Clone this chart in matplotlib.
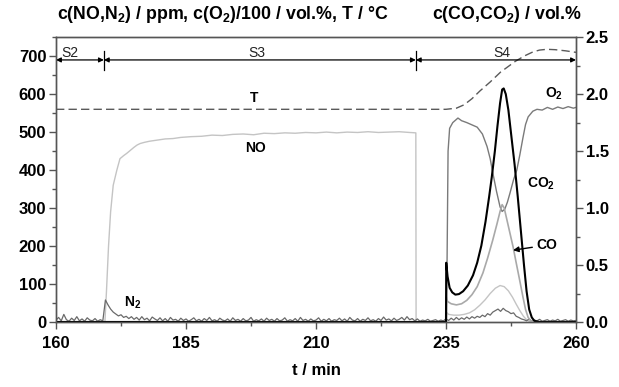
import numpy as np
import matplotlib.pyplot as plt

plt.rcParams['font.family'] = ['Liberation Sans', 'DejaVu Sans']
plt.rcParams['mathtext.fontset'] = 'custom'
plt.rcParams['mathtext.rm'] = 'Liberation Sans'
plt.rcParams['mathtext.bf'] = 'Liberation Sans:bold'

# ---- data ----
# temperature, degC
t_T = [160, 235, 237, 238.5, 240, 241.5, 243.5, 245.5, 248.3, 250, 251.7, 253, 254.4, 256, 258, 260]
T = [560, 560, 563, 572, 588, 608, 632, 658, 686, 700, 711, 716, 718, 717, 714, 710]

# NO, ppm
t_NO = [160, 169.4, 169.7, 170.1, 170.5, 171.0, 171.7, 172.3, 173.0, 173.6, 174.3, 175.0, 175.6,
        176.2, 177, 178, 179, 180, 181, 182.5, 184, 186, 188, 190, 192, 194, 196, 198, 200, 202,
        204, 206, 208, 210, 212, 214, 216, 218, 220, 222, 224, 226, 228, 229.2, 229.25,
        235.05, 235.15, 235.5, 236.5, 237.5, 238.5, 239.5, 240.5, 241.5, 242.5, 243.5, 244.5,
        245.4, 246.2, 247, 247.8, 248.5, 249.2, 249.9, 250.5, 251, 252, 260]
NO = [0, 0, 80, 200, 290, 360, 400, 430, 438, 444, 452, 460, 466,
      470, 473, 476, 478, 480, 482, 483, 486, 488, 489, 492, 491, 494, 495, 493, 497, 496,
      498, 497, 499, 498, 500, 498, 500, 499, 501, 499, 500, 501, 499, 498, 0,
      0, 25, 20, 18, 18, 20, 24, 32, 44, 58, 75, 89,
      96, 93, 82, 65, 47, 30, 15, 6, 2, 0, 0]

# N2, ppm (every 0.5 min from 160 to 260)
t_N2 = np.arange(160, 260.5, 0.5)
N2 = [5, 12, 3, 20, 6, 2, 10, 4, 14, 3,
      8, 2, 11, 5, 3, 9, 2, 6, 3, 58,
      45, 34, 26, 21, 16, 19, 12, 15, 9, 14,
      7, 12, 5, 14, 6, 10, 3, 13, 8, 4,
      11, 3, 9, 2, 12, 5, 7, 2, 10, 4,
      8, 2, 6, 11, 3, 7, 2, 9, 4, 12,
      3, 6, 2, 10, 5, 3, 8, 2, 11, 4,
      7, 2, 9, 3, 5, 12, 2, 6, 3, 8,
      2, 10, 4, 7, 2, 9, 3, 5, 11, 2,
      6, 3, 9, 2, 12, 4, 7, 2, 8, 3,
      5, 11, 2, 7, 3, 9, 2, 6, 4, 10,
      3, 8, 2, 12, 5, 3, 9, 2, 7, 4,
      11, 3, 6, 2, 9, 4, 13, 5, 8, 3,
      10, 4, 7, 12, 5, 14, 6, 9, 3, 8,
      2, 5, 3, 7, 2, 4, 6, 2, 5, 3,
      8, 4, 10, 5, 12, 6, 11, 7, 13, 8,
      14, 10, 15, 12, 18, 14, 22, 18, 26, 30,
      34, 28, 36, 30, 27, 22, 24, 15, 12, 8,
      6, 3, 8, 2, 5, 3, 7, 2, 4, 6,
      2, 5, 3, 7, 2, 4, 6, 2, 5, 3,
      4]

# O2, vol.%
t_O2 = [234.9, 235.1, 235.4, 235.7, 236.3, 237.3, 238, 239, 240, 241, 242, 242.9, 243.5, 244,
        244.7, 245.4, 245.8, 246.3, 246.8, 247.3, 248, 248.6, 249.2, 249.8, 250.3, 250.8, 251.7,
        252.5, 253.5, 254.5, 255.5, 256.5, 257.5, 258.5, 259.5, 260]
O2 = [0, 0, 4.5, 5.1, 5.25, 5.37, 5.3, 5.25, 5.19, 5.13, 4.95, 4.62, 4.3, 3.93,
      3.45, 3.03, 2.91, 2.97, 3.15, 3.39, 3.75, 3.99, 4.4, 4.85, 5.2, 5.4, 5.55,
      5.6, 5.58, 5.65, 5.6, 5.66, 5.62, 5.67, 5.63, 5.65]

# CO2, vol.%
t_CO2 = [160, 235, 235.05, 235.3, 235.7, 236.2, 236.8, 237.5, 238.3, 239.2, 240.2, 241, 241.8,
         242.6, 243.3, 243.8, 244.4, 244.9, 245.4, 245.8, 246.1, 246.5, 247, 247.6, 248.2,
         248.8, 249.4, 250, 250.5, 251, 251.5, 252, 253, 260]
CO2 = [0, 0, 0.52, 0.4, 0.3, 0.26, 0.24, 0.245, 0.27, 0.32, 0.41, 0.52, 0.67,
       0.88, 1.1, 1.27, 1.5, 1.72, 1.92, 2.04, 2.05, 2.0, 1.86, 1.62, 1.38,
       1.1, 0.8, 0.5, 0.27, 0.11, 0.04, 0.01, 0, 0]

# CO, vol.%
t_CO = [160, 235, 235.05, 235.3, 236, 237, 238, 239, 240, 241, 242.1, 243, 244, 244.8, 245.4,
        245.8, 246.2, 246.8, 247.4, 247.9, 248.5, 249.2, 249.8, 250.3, 250.8, 251.3, 252, 260]
CO = [0, 0, 0.22, 0.18, 0.16, 0.15, 0.16, 0.19, 0.24, 0.31, 0.43, 0.56, 0.72, 0.86, 0.97,
      1.03, 1.0, 0.88, 0.76, 0.66, 0.52, 0.36, 0.22, 0.11, 0.04, 0.01, 0, 0]

# phases
phase_edges = [160, 169.2, 229.2, 260]
phase_names = ['S2', 'S3', 'S4']
phase_label_x = [162.7, 198.7, 245.8]

# ---- plot ----
fig = plt.figure(figsize=(6.19, 3.87), dpi=100)
ax = fig.add_axes([0.0905, 0.168, 0.84, 0.736])
ax2 = ax.twinx()

ax.plot(t_NO, NO, color='#c4c4c4', lw=1.0)
ax2.plot(t_CO, CO, color='#a9a9a9', lw=1.2)
ax.plot(t_O2, np.array(O2) * 100, color='#7a7a7a', lw=1.0)
ax.plot(t_N2, N2, color='#6a6a6a', lw=0.9)
ax.plot(t_T, T, color='#5a5a5a', lw=1.0, dashes=(6, 3))
ax2.plot(t_CO2, CO2, color='black', lw=1.5)

# phase arrows
y_ph = 690
for i in range(3):
    ax.annotate('', xy=(phase_edges[i + 1], y_ph), xytext=(phase_edges[i], y_ph),
                arrowprops=dict(arrowstyle='<|-|>', color='black', lw=0.9,
                                mutation_scale=7, shrinkA=0, shrinkB=0))
    ax.text(phase_label_x[i], 707, phase_names[i], fontsize=10, color='#222222',
            ha='center', va='center')
for x in phase_edges[1:3]:
    ax.plot([x, x], [663, 714], color='black', lw=0.9)

# series labels
ax.text(198, 589, 'T', fontsize=10, fontweight='bold', ha='center', va='center')
ax.text(198.3, 458, 'NO', fontsize=10, fontweight='bold', ha='center', va='center')
ax.text(174.8, 50, r'N$_\mathbf{2}$', fontsize=10, fontweight='bold', ha='center', va='center')
ax2.text(255.8, 2.0, r'O$_\mathbf{2}$', fontsize=10, fontweight='bold', ha='center', va='center')
ax2.text(253.2, 1.21, r'CO$_\mathbf{2}$', fontsize=10, fontweight='bold', ha='center', va='center')
ax2.annotate('CO', xy=(247.9, 0.63), xytext=(252.4, 0.675), fontsize=10, fontweight='bold',
             va='center', ha='left',
             arrowprops=dict(arrowstyle='-|>', color='black', lw=1.0, mutation_scale=8,
                             shrinkA=1, shrinkB=0))

ax.set_xlim(160, 260)
ax.set_ylim(0, 750)
ax2.set_ylim(0, 2.5)
ax.set_xticks([160, 185, 210, 235, 260])
ax.set_xticks([172.5, 197.5, 222.5, 247.5], minor=True)
ax.set_yticks(range(0, 701, 100))
ax.set_yticks(range(50, 751, 100), minor=True)
ax2.set_yticks([0, 0.5, 1.0, 1.5, 2.0, 2.5])
ax2.set_yticks([0.25, 0.75, 1.25, 1.75, 2.25], minor=True)
ax2.set_yticklabels(['0.0', '0.5', '1.0', '1.5', '2.0', '2.5'])

for a in (ax, ax2):
    for s in a.spines.values():
        s.set_color('#555555')
        s.set_linewidth(1.0)
    a.tick_params(which='both', direction='out', color='#555555', width=1.0)
    a.tick_params(which='major', length=5, labelsize=12, pad=2)
    a.tick_params(which='minor', length=3)
ax.tick_params(axis='x', which='major', pad=5)
for lab in ax.get_xticklabels() + ax.get_yticklabels() + ax2.get_yticklabels():
    lab.set_fontweight('bold')

ax.set_xlabel('t / min', fontsize=12, fontweight='bold', labelpad=9)

fig.text(0.092, 0.962, r'c(NO,N$_\mathbf{2}$) / ppm, c(O$_\mathbf{2}$)/100 / vol.%, T / °C',
         fontsize=12.8, fontweight='bold', va='center', ha='left')
fig.text(0.698, 0.962, r'c(CO,CO$_\mathbf{2}$) / vol.%', fontsize=12.8, fontweight='bold',
         va='center', ha='left')

fig.savefig('out.png', dpi=100)
